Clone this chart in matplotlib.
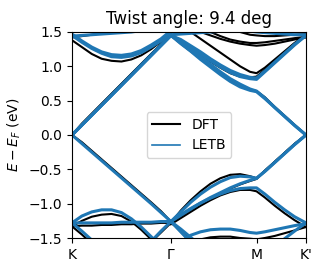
import numpy as np
import matplotlib
matplotlib.use("Agg")
import matplotlib.pyplot as plt

n = np.nan

# k-path positions: K -> Gamma -> M -> K'
kpath = [0.0, 0.1, 0.2, 0.3, 0.4, 0.5, 0.6, 0.7, 0.8, 0.9, 1.0,
         1.1, 1.2, 1.3, 1.4, 1.5, 1.6, 1.7, 1.8, 1.866,
         1.95, 2.05, 2.15, 2.25, 2.366]
tick_pos = [0.0, 1.0, 1.866, 2.366]
tick_labels = ["K", "Γ", "M", "K'"]

# -------------------------------
# DFT bands (eV)
# -------------------------------
dft_c1 = [0.00, 0.165, 0.31, 0.455, 0.60, 0.745, 0.89, 1.035, 1.18, 1.32, 1.45,
          1.33, 1.22, 1.11, 1.00, 0.89, 0.79, 0.71, 0.66, 0.64, 0.55, 0.41, 0.28, 0.15, 0.00]
dft_c2 = [0.00, 0.16, 0.305, 0.45, 0.595, 0.74, 0.885, 1.03, 1.175, 1.315, 1.45,
          1.37, 1.27, 1.17, 1.07, 0.98, 0.90, 0.85, 0.84, 0.85, 0.95, 1.08, 1.20, 1.33, 1.45]
dft_c3 = [n] * 12 + [1.50, 1.40, 1.30, 1.20, 1.10, 1.00, 0.92, 0.90, 0.98, 1.10, 1.22, 1.34, 1.45]
dft_c4 = [n] * 13 + [1.50, 1.45, 1.40, 1.36, 1.33, 1.31, 1.30, 1.31, 1.33, 1.36, 1.39, 1.42]
dft_c5 = [n] * 14 + [1.50, 1.44, 1.39, 1.36, 1.34, 1.34, 1.35, 1.37, 1.39, 1.41, 1.43]
dft_c6 = [n] * 17 + [1.50, 1.46, 1.45, 1.44, 1.44, 1.45, 1.46, 1.47]
dft_u1 = [1.38, 1.28, 1.18, 1.11, 1.08, 1.07, 1.10, 1.16, 1.25, 1.36, 1.52] + [n] * 14
dft_u2 = [1.42, 1.44, 1.46, 1.48, 1.50, 1.52] + [n] * 19

dft_v1 = [0.00, -0.105, -0.23, -0.355, -0.48, -0.605, -0.73, -0.855, -0.98, -1.11, -1.26,
          -1.41, -1.56] + [n] * 12
dft_v2 = [n] * 8 + [-1.56, -1.42, -1.28, -1.10, -0.95, -0.82, -0.71, -0.63, -0.58, -0.57,
                    -0.60, -0.63, -0.52, -0.39, -0.26, -0.13, 0.00]
dft_v3 = [n] * 10 + [-1.28, -1.18, -1.09, -1.00, -0.92, -0.85, -0.78, -0.72, -0.67, -0.64,
                     -0.52, -0.39, -0.26, -0.13, 0.00]
dft_v4 = [n] * 10 + [-1.30, -1.21, -1.12, -1.03, -0.95, -0.88, -0.83, -0.80, -0.80, -0.82,
                     -0.91, -1.03, -1.14, -1.24, -1.34]
dft_flat = [-1.33, -1.32, -1.32, -1.31, -1.31, -1.30, -1.30, -1.29, -1.29, -1.28, -1.28,
            -1.38, -1.50, -1.62] + [n] * 11
dft_arc = [-1.33, -1.25, -1.19, -1.16, -1.15, -1.18, -1.26, -1.38, -1.52, -1.66] + [n] * 15
dft_steep = [-1.33, -1.45, -1.58] + [n] * 22
dft_low = [n] * 13 + [-1.52, -1.49, -1.48, -1.48, -1.50, -1.51, -1.52, -1.50, -1.47, -1.43,
                      -1.39, -1.34]

# -------------------------------
# LETB bands (eV)
# -------------------------------
letb_c1 = [0.00, 0.145, 0.29, 0.435, 0.58, 0.725, 0.87, 1.015, 1.16, 1.305, 1.45,
           1.33, 1.22, 1.10, 0.99, 0.88, 0.78, 0.70, 0.65, 0.63, 0.53, 0.40, 0.27, 0.14, 0.00]
letb_c1b = [0.00, 0.145, 0.29, 0.435, 0.58, 0.725, 0.87, 1.015, 1.16, 1.305, 1.45,
            1.35, 1.25, 1.14, 1.03, 0.92, 0.82, 0.74, 0.67, 0.64, 0.54, 0.40, 0.27, 0.14, 0.00]
letb_c2 = [0.00, 0.145, 0.29, 0.435, 0.58, 0.725, 0.87, 1.015, 1.16, 1.305, 1.45,
           1.37, 1.28, 1.18, 1.08, 0.99, 0.91, 0.85, 0.82, 0.81, 0.92, 1.05, 1.18, 1.31, 1.45]
letb_c2b = [0.00, 0.145, 0.29, 0.435, 0.58, 0.725, 0.87, 1.015, 1.16, 1.305, 1.45,
            1.39, 1.30, 1.21, 1.11, 1.02, 0.94, 0.88, 0.84, 0.83, 0.93, 1.06, 1.19, 1.32, 1.45]
letb_u1 = [1.47, 1.37, 1.28, 1.21, 1.17, 1.16, 1.18, 1.23, 1.31, 1.40, 1.52] + [n] * 14
letb_u2 = [1.45, 1.35, 1.26, 1.19, 1.14, 1.13, 1.15, 1.20, 1.28, 1.37, 1.49] + [n] * 14
letb_top1 = [1.44, 1.45, 1.46, 1.47, 1.48, 1.49, 1.50, 1.52] + [n] * 17
letb_top2 = [n] * 10 + [1.46, 1.47, 1.48, 1.49, 1.50, 1.51] + [n] * 9
letb_top3 = [n] * 18 + [1.51, 1.50, 1.49, 1.48, 1.47, 1.46, 1.46]

letb_v1 = [0.00, -0.125, -0.25, -0.375, -0.50, -0.625, -0.75, -0.875, -1.00, -1.13, -1.26,
           -1.41, -1.56] + [n] * 12
letb_v2 = [n] * 8 + [-1.55, -1.40, -1.26, -1.12, -0.98, -0.86, -0.76, -0.68, -0.62, -0.60,
                     -0.61, -0.63, -0.53, -0.40, -0.27, -0.14, 0.00]
letb_v3 = [n] * 10 + [-1.26, -1.17, -1.08, -0.99, -0.91, -0.84, -0.77, -0.71, -0.66, -0.63,
                      -0.53, -0.40, -0.27, -0.14, 0.00]
letb_v4 = [n] * 10 + [-1.26, -1.16, -1.07, -0.99, -0.92, -0.86, -0.81, -0.78, -0.77, -0.77,
                      -0.86, -0.98, -1.09, -1.19, -1.28]
letb_flat = [-1.28, -1.28, -1.28, -1.28, -1.28, -1.27, -1.27, -1.27, -1.27, -1.26, -1.26,
             -1.37, -1.49, -1.61] + [n] * 11
letb_arc = [-1.28, -1.18, -1.12, -1.09, -1.09, -1.13, -1.22, -1.34, -1.48, -1.62] + [n] * 15
letb_steep = [-1.28, -1.40, -1.53] + [n] * 22
letb_low = [n] * 11 + [-1.56, -1.46, -1.41, -1.38, -1.37, -1.37, -1.39, -1.42, -1.43,
                       -1.41, -1.38, -1.35, -1.32, -1.29]
letb_kp = [n] * 21 + [-1.62, -1.51, -1.40, -1.28]

dft_bands = [dft_c1, dft_c2, dft_c3, dft_c4, dft_c5, dft_c6, dft_u1, dft_u2,
             dft_v1, dft_v2, dft_v3, dft_v4, dft_flat, dft_arc, dft_steep, dft_low]
letb_bands = [letb_c1, letb_c1b, letb_c2, letb_c2b, letb_u1, letb_u2, letb_top1,
              letb_top2, letb_top3, letb_v1, letb_v2, letb_v3, letb_v4, letb_flat,
              letb_arc, letb_steep, letb_low, letb_kp]

# -------------------------------
# PLOT
# -------------------------------
fig = plt.figure(figsize=(3.22, 2.72), dpi=100)
ax = fig.add_axes([0.2236, 0.125, 0.7267, 0.7574])

for i, band in enumerate(dft_bands):
    ax.plot(kpath, band, color="k", lw=1.5, label="DFT" if i == 0 else None)
for i, band in enumerate(letb_bands):
    ax.plot(kpath, band, color="C0", lw=2.2, label="LETB" if i == 0 else None)

ax.set_xlim(0, 2.366)
ax.set_ylim(-1.5, 1.5)
ax.set_xticks(tick_pos)
ax.set_xticklabels(tick_labels)
ax.set_yticks([-1.5, -1.0, -0.5, 0.0, 0.5, 1.0, 1.5])
ax.set_ylabel(r"$E - E_F$ (eV)")
ax.set_title("Twist angle: 9.4 deg")
leg = ax.legend(loc="center")
leg.get_lines()[1].set_linewidth(1.2)

fig.savefig("out.png", dpi=100)
